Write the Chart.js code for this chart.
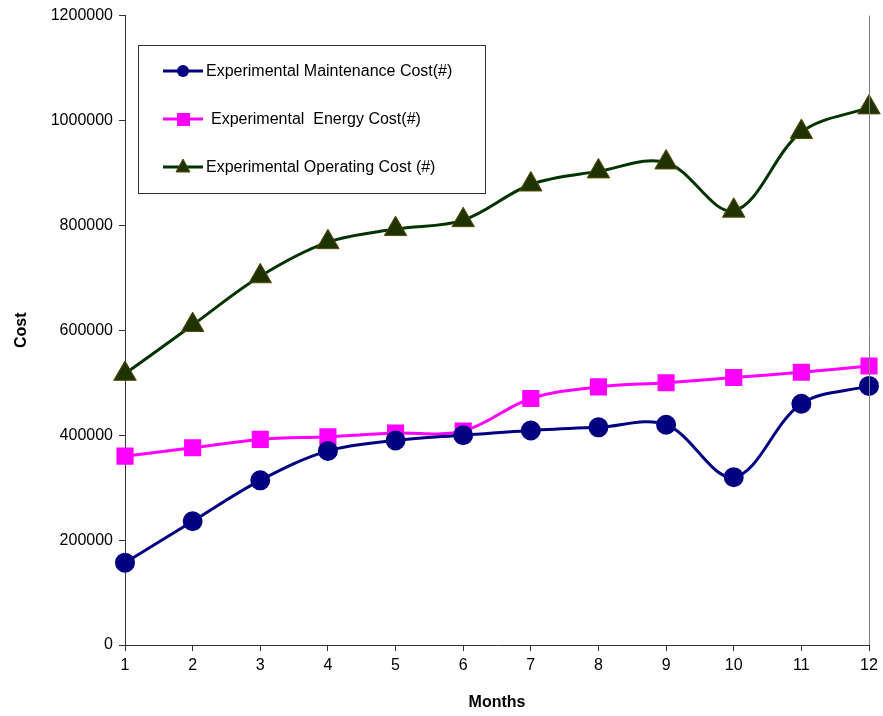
<!DOCTYPE html>
<html>
<head>
<meta charset="utf-8">
<script src="https://cdn.jsdelivr.net/npm/chart.js@4/dist/chart.umd.min.js"></script>
<style>
  html, body { margin: 0; padding: 0; background: #fff; }
  #wrap { width: 883px; height: 716px; }
</style>
</head>
<body>
<div id="wrap"><canvas id="chart1" width="883" height="716"></canvas></div>
<script>
// data
var months = ['1', '2', '3', '4', '5', '6', '7', '8', '9', '10', '11', '12'];
var maintenanceCost = [157000, 236000, 314000, 370000, 390000, 400000, 409000, 415000, 420000, 320000, 460000, 494000];
var energyCost = [360000, 376000, 392000, 397000, 404000, 408000, 470000, 492000, 500000, 510000, 520000, 532000];
var operatingCost = [517000, 610000, 703000, 768000, 793000, 810000, 878000, 903000, 920000, 828000, 978000, 1025000];
var yTicks = [0, 200000, 400000, 600000, 800000, 1000000, 1200000];

var FONT = '"Liberation Sans", Arial, sans-serif';

// legend box drawn inside the plot, plus the grey right border
var boxLegend = {
    id: 'boxLegend',
    afterDraw: function(chart) {
        var ctx = chart.ctx;
        var area = chart.chartArea;
        ctx.save();
        // right border of plot
        ctx.strokeStyle = '#808080';
        ctx.lineWidth = 1;
        ctx.beginPath();
        ctx.moveTo(area.right + 0.5, area.top);
        ctx.lineTo(area.right + 0.5, area.bottom);
        ctx.stroke();

        // legend frame
        ctx.strokeStyle = '#333';
        ctx.fillStyle = '#fff';
        ctx.fillRect(138, 45, 347, 148);
        ctx.strokeRect(138.5, 45.5, 347, 148);

        var rows = [71, 119, 167];
        var textX = [206, 211, 206];
        chart.data.datasets.forEach(function(ds, i) {
            var y = rows[i];
            ctx.strokeStyle = ds.borderColor;
            ctx.lineWidth = 3;
            ctx.beginPath();
            ctx.moveTo(163, y);
            ctx.lineTo(203, y);
            ctx.stroke();
            ctx.fillStyle = ds.pointBackgroundColor;
            ctx.strokeStyle = ds.pointBorderColor;
            ctx.lineWidth = 1;
            if (ds.pointStyle === 'circle') {
                ctx.beginPath();
                ctx.arc(183, y, 6, 0, Math.PI * 2);
                ctx.fill();
            } else if (ds.pointStyle === 'rect') {
                ctx.fillRect(177, y - 6, 13, 13);
            } else {
                ctx.beginPath();
                ctx.moveTo(183, y - 8);
                ctx.lineTo(190, y + 5);
                ctx.lineTo(176, y + 5);
                ctx.closePath();
                ctx.fill();
                ctx.stroke();
            }
            ctx.fillStyle = '#000';
            ctx.font = '16px ' + FONT;
            ctx.textBaseline = 'middle';
            ctx.textAlign = 'left';
            ctx.fillText(ds.label, textX[i], y + 1);
        });
        ctx.restore();
    }
};

var ctx = document.getElementById('chart1');
var myChart = new Chart(ctx, {
    type: 'line',
    data: {
        labels: months,
        datasets: [{
            label: 'Experimental Maintenance Cost(#)',
            data: maintenanceCost,
            borderColor: '#000080',
            backgroundColor: '#000080',
            pointBackgroundColor: '#000080',
            pointBorderColor: '#000080',
            pointStyle: 'circle',
            pointRadius: 8.5,
            borderWidth: 3,
            tension: 0.35
        }, {
            label: 'Experimental  Energy Cost(#)',
            data: energyCost,
            borderColor: '#ff00ff',
            backgroundColor: '#ff00ff',
            pointBackgroundColor: '#ff00ff',
            pointBorderColor: '#ff00ff',
            pointStyle: 'rect',
            pointRadius: 10,
            borderWidth: 3,
            tension: 0.35
        }, {
            label: 'Experimental Operating Cost (#)',
            data: operatingCost,
            borderColor: '#003300',
            backgroundColor: '#1f3300',
            pointBackgroundColor: '#1f3300',
            pointBorderColor: '#5a4a00',
            pointStyle: 'triangle',
            pointRadius: 13,
            pointBorderWidth: 1,
            borderWidth: 3,
            tension: 0.35
        }]
    },
    options: {
        responsive: false,
        animation: false,
        layout: { padding: { top: 15, right: 14, left: 8, bottom: 0 } },
        plugins: {
            legend: { display: false },
            tooltip: { enabled: false }
        },
        scales: {
            x: {
                type: 'category',
                offset: false,
                grid: { drawOnChartArea: false, color: '#333', tickLength: 6 },
                border: { color: '#333', width: 1 },
                ticks: { color: '#000', font: { family: FONT, size: 16 }, padding: 5, maxRotation: 0 },
                title: { display: true, text: 'Months', color: '#000', font: { family: FONT, size: 16, weight: 'bold' }, padding: { top: 8 } },
                afterFit: function(s) { s.height = 71; }
            },
            y: {
                min: 0,
                max: 1200000,
                afterBuildTicks: function(s) { s.ticks = yTicks.map(function(v) { return { value: v }; }); },
                grid: { drawOnChartArea: false, color: '#333', tickLength: 6 },
                border: { color: '#333', width: 1 },
                ticks: {
                    color: '#000', font: { family: FONT, size: 16 }, padding: 6,
                    callback: function(v) { return String(v); }
                },
                title: { display: true, text: 'Cost', color: '#000', font: { family: FONT, size: 16, weight: 'bold' }, padding: { bottom: 0 } },
                afterFit: function(s) { s.width = 117; }
            }
        }
    },
    plugins: [boxLegend]
});
</script>
</body>
</html>
